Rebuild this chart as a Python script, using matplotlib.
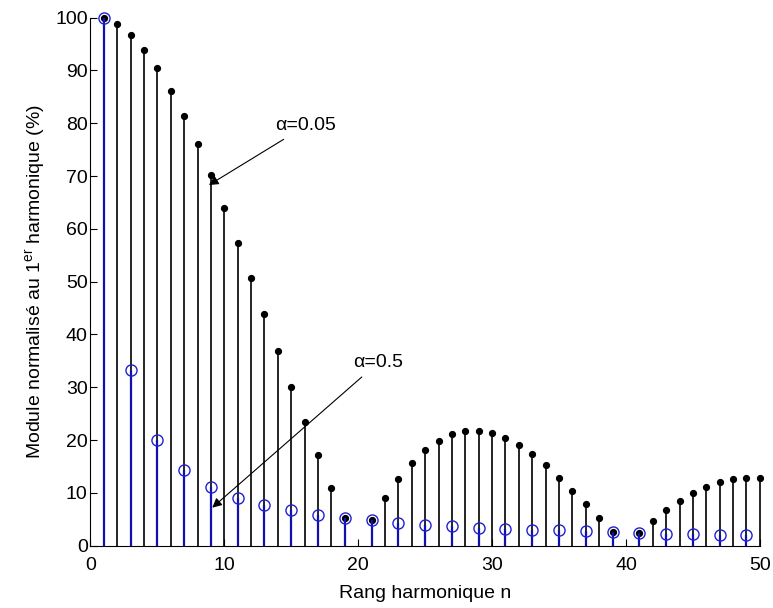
import matplotlib
matplotlib.use("Agg")
import matplotlib.pyplot as plt

plt.rcParams['font.family'] = ['Liberation Sans', 'DejaVu Sans']
plt.rcParams['mathtext.fontset'] = 'custom'
plt.rcParams['mathtext.rm'] = 'Liberation Sans'
plt.rcParams['mathtext.it'] = 'Liberation Sans:italic'

# alpha = 0.05 (all harmonics, n=20 and n=40 are zero and not drawn)
n_a = [1, 2, 3, 4, 5, 6, 7, 8, 9, 10, 11, 12, 13, 14, 15, 16, 17, 18, 19,
       21, 22, 23, 24, 25, 26, 27, 28, 29, 30, 31, 32, 33, 34, 35, 36, 37, 38, 39,
       41, 42, 43, 44, 45, 46, 47, 48, 49, 50]
v_a = [100, 98.8, 96.7, 93.9, 90.4, 86.2, 81.4, 76.0, 70.2, 63.9, 57.4, 50.7, 43.8,
       36.9, 30.1, 23.5, 17.1, 11.0, 5.3,
       4.8, 9.0, 12.6, 15.7, 18.1, 19.9, 21.1, 21.7, 21.8, 21.3, 20.4, 19.0, 17.3,
       15.2, 12.9, 10.4, 7.8, 5.2, 2.6,
       2.4, 4.7, 6.7, 8.5, 10.0, 11.2, 12.1, 12.7, 12.9, 12.8]

# alpha = 0.5 (odd harmonics only)
n_b = [1, 3, 5, 7, 9, 11, 13, 15, 17, 19, 21, 23, 25, 27, 29, 31, 33, 35, 37, 39,
       41, 43, 45, 47, 49]
v_b = [100, 33.3, 20.0, 14.3, 11.1, 9.1, 7.7, 6.7, 5.9, 5.3, 4.8, 4.3, 4.0, 3.7,
       3.4, 3.2, 3.0, 2.9, 2.7, 2.6, 2.4, 2.3, 2.2, 2.1, 2.0]

x_ticks = [0, 10, 20, 30, 40, 50]
y_ticks = [0, 10, 20, 30, 40, 50, 60, 70, 80, 90, 100]

fig = plt.figure(figsize=(7.73, 6.08), dpi=100)
ax = fig.add_axes([0.117, 0.1025, 0.866, 0.8685])

black = '#000000'
blue = '#1010B0'

ax.vlines(n_a, 0, v_a, color=black, lw=1.2, zorder=2, clip_on=False)
ax.plot(n_a, v_a, 'o', color=black, ms=4.2, zorder=3, clip_on=False)

ax.vlines(n_b, 0, v_b, color=blue, lw=1.6, zorder=4, clip_on=False)
ax.plot(n_b, v_b, 'o', mfc='none', mec='#2020D0', mew=1.0, ms=8, zorder=5,
        clip_on=False)

ax.set_xlim(0, 50)
ax.set_ylim(0, 100)
ax.set_xticks(x_ticks)
ax.set_yticks(y_ticks)
ax.spines['top'].set_visible(False)
ax.spines['right'].set_visible(False)
ax.tick_params(direction='in', length=5, labelsize=14, width=0.8)
ax.tick_params(axis='y', pad=2)
ax.tick_params(axis='x', pad=8)

ax.set_xlabel('Rang harmonique n', fontsize=14, labelpad=8)
ax.set_ylabel(r'Module normalisé au 1$^{\mathrm{er}}$ harmonique (%)', fontsize=14,
              labelpad=6)

ax.annotate('\u03b1=0.05', xy=(8.85, 68.3), xytext=(13.8, 79.5),
            fontsize=14, va='center', ha='left',
            arrowprops=dict(arrowstyle='-|>', color='black', lw=0.8,
                            shrinkA=3, shrinkB=0, mutation_scale=14))
ax.annotate('\u03b1=0.5', xy=(9.1, 7.2), xytext=(19.6, 34.6),
            fontsize=14, va='center', ha='left',
            arrowprops=dict(arrowstyle='-|>', color='black', lw=0.8,
                            shrinkA=3, shrinkB=0, mutation_scale=14))

fig.savefig('out.png', dpi=100)
